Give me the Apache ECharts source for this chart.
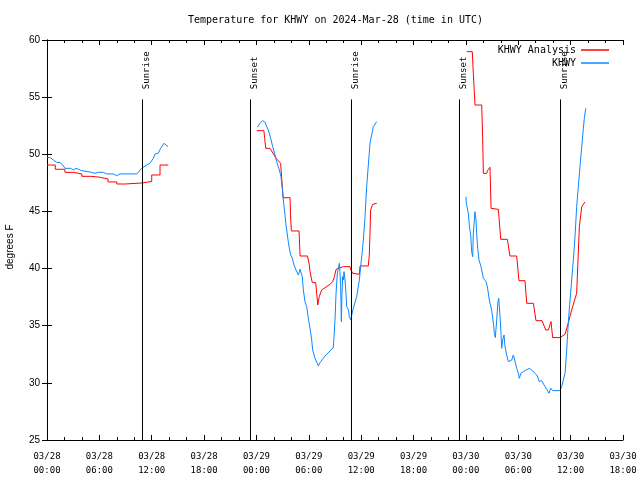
<!DOCTYPE html>
<html>
<head>
<meta charset="utf-8">
<script src="https://cdn.jsdelivr.net/npm/echarts@6/dist/echarts.min.js"></script>
<style>html,body{margin:0;padding:0;background:#fff;}#c{width:640px;height:480px;}</style>
</head>
<body>
<div id="c"></div>
<script>
// time in hours since 2024-03-28 00:00 UTC, temperature in degrees F
const analysisSeg1 = [[0,49.06],[0.95,49.06],[0.95,48.69],[2.05,48.69],[2.05,48.42],[3.0,48.42],[3.0,48.28],[4.0,48.28],[4.0,48.07],[5.0,48.07],[5.0,48.0],[6.0,48.0],[6.0,47.84],[7.0,47.84],[7.0,47.58],[8.0,47.58],[8.0,47.4],[8.95,47.4],[8.95,47.49],[10.9,47.49],[10.9,47.63],[12.0,47.63],[12.0,48.19],[12.95,48.19],[12.95,49.06],[13.9,49.06]];
const analysisSeg2 = [[24.03,52.07],[24.85,52.07],[24.94,51.4],[25.06,50.52],[25.55,50.52],[25.74,50.29],[26.24,49.65],[26.77,49.21],[26.97,49.06],[27.05,46.2],[27.85,46.2],[27.9,44.75],[28.0,43.29],[28.88,43.29],[29.0,41.1],[29.85,41.1],[30.06,40.31],[30.14,39.73],[30.33,39.73],[30.4,38.77],[30.79,38.77],[30.9,37.84],[31.02,36.81],[31.13,36.73],[31.2,37.55],[31.47,38.13],[32.43,38.62],[32.74,38.85],[32.93,39.29],[33.12,39.93],[33.19,40.01],[33.96,40.17],[34.72,40.17],[34.83,39.88],[35.03,39.59],[35.79,39.5],[35.87,40.23],[36.82,40.23],[36.93,41.19],[37.09,45.13],[37.31,45.62],[37.78,45.71]];
const analysisSeg3 = [[48.09,58.98],[48.73,58.98],[48.85,57.08],[49.04,54.31],[49.81,54.31],[49.92,51.4],[50.0,48.33],[50.38,48.33],[50.5,48.6],[50.76,48.86],[50.88,45.27],[51.72,45.18],[51.99,42.56],[52.75,42.56],[53.05,41.1],[53.82,41.1],[54.08,38.94],[54.77,38.94],[54.97,36.96],[55.73,36.96],[56.03,35.44],[56.72,35.44],[57.14,34.63],[57.45,34.63],[57.75,35.36],[57.94,33.96],[58.78,33.96],[59.36,34.25],[59.74,35.27],[60.12,36.38],[60.69,37.84],[61.0,43.67],[61.27,45.42],[61.65,45.83]];

const obsSeg1 = [[0.04,49.73],[0.42,49.7],[0.73,49.5],[1.11,49.3],[1.49,49.27],[1.8,49.06],[2.06,48.77],[2.71,48.77],[3.02,48.63],[3.32,48.77],[3.59,48.69],[3.97,48.57],[4.16,48.42],[5.12,48.42],[5.5,48.34],[5.88,48.42],[6.45,48.42],[6.84,48.28],[7.6,48.28],[7.98,48.13],[8.37,48.28],[10.28,48.28],[10.85,48.77],[11.42,49.06],[11.8,49.21],[12.18,49.65],[12.38,50.03],[12.75,50.09],[13.02,50.52],[13.41,50.96],[13.64,50.81],[13.87,50.67]];
const obsSeg2 = [[24.1,52.36],[24.4,52.7],[24.7,52.94],[24.79,53.0],[25.0,52.8],[25.17,52.42],[25.36,52.13],[25.63,51.4],[25.86,50.67],[26.13,49.94],[26.32,49.36],[26.62,48.63],[26.81,48.04],[26.97,47.02],[27.08,46.0],[27.19,45.27],[27.27,44.69],[27.39,43.81],[27.54,42.94],[27.65,42.35],[27.77,41.77],[27.92,41.19],[28.11,40.9],[28.3,40.31],[28.53,39.88],[28.8,39.44],[29.0,39.94],[29.12,40.05],[29.25,39.3],[29.37,38.13],[29.56,37.11],[29.76,36.67],[29.94,35.65],[30.14,34.77],[30.33,33.75],[30.44,32.88],[30.71,32.15],[31.09,31.48],[31.28,31.77],[31.66,32.15],[32.05,32.5],[32.43,32.79],[32.81,33.11],[32.89,34.04],[33.0,35.5],[33.12,37.84],[33.27,39.59],[33.38,40.0],[33.5,40.46],[33.57,39.73],[33.65,38.42],[33.73,35.36],[33.8,37.84],[33.88,39.29],[33.96,39.0],[34.03,39.73],[34.15,39.0],[34.26,37.84],[34.34,36.67],[34.53,36.38],[34.64,35.79],[34.8,35.5],[34.92,35.94],[35.1,36.52],[35.49,37.55],[35.79,39.0],[35.94,40.17],[36.1,41.34],[36.25,42.5],[36.44,44.54],[36.63,47.17],[37.01,50.96],[37.39,52.42],[37.78,52.85]];
const obsSeg3 = [[48.01,46.29],[48.05,45.71],[48.28,44.84],[48.4,43.67],[48.55,42.94],[48.66,41.48],[48.78,41.04],[48.85,43.09],[48.97,44.25],[49.04,44.98],[49.16,44.25],[49.23,43.09],[49.35,41.77],[49.5,40.75],[49.73,40.17],[50.0,39.15],[50.3,38.86],[50.46,38.42],[50.68,37.25],[50.95,36.38],[51.15,35.21],[51.26,34.34],[51.37,33.96],[51.53,35.5],[51.65,36.96],[51.76,37.4],[51.91,35.79],[52.02,34.34],[52.1,33.02],[52.22,33.75],[52.37,34.19],[52.48,33.17],[52.67,32.44],[52.86,31.86],[53.05,31.71],[53.25,32.0],[53.44,32.44],[53.63,31.86],[53.82,31.27],[54.01,30.84],[54.12,30.4],[54.31,30.84],[54.58,30.98],[54.89,31.13],[55.27,31.27],[55.54,31.13],[55.92,30.84],[56.19,30.6],[56.41,30.11],[56.68,30.2],[56.95,29.82],[57.26,29.44],[57.52,29.09],[57.72,29.53],[57.94,29.32],[58.21,29.32],[58.78,29.32],[58.98,29.67],[59.16,30.25],[59.36,30.84],[59.47,32.0],[59.55,32.88],[59.66,34.34],[59.78,35.79],[59.93,37.25],[60.12,39.0],[60.31,40.75],[60.5,42.79],[60.69,45.42],[60.88,47.17],[61.07,48.92],[61.27,50.67],[61.46,52.27],[61.57,53.15],[61.73,54.02]];

const sunTimes = [10.9, 23.27, 34.87, 47.27, 58.83];
const sunNames = ['Sunrise', 'Sunset', 'Sunrise', 'Sunset', 'Sunrise'];
const xTickHours = [0, 6, 12, 18, 24, 30, 36, 42, 48, 54, 60, 66];
const yTicks = [25, 30, 35, 40, 45, 50, 55, 60];

const RED = '#ff0000';
const BLUE = '#0a88ff';
const MONO = '"DejaVu Sans Mono", monospace';
const SANS = '"Liberation Sans", Arial, sans-serif';

const sunLines = sunTimes.map(t => [{coord: [t, yTicks[0]]}, {coord: [t, 54.8]}]);
const sunLabels = sunTimes.map((t, i) => [{coord: [t, 55.7], name: sunNames[i]}, {coord: [t, 59.8]}]);

function lineSeries(name, data, color, extra) {
  return Object.assign({
    name: name, type: 'line', data: data, symbol: 'none', showSymbol: false,
    lineStyle: {color: color, width: 1}, itemStyle: {color: color},
    animation: false, silent: true, z: 2
  }, extra || {});
}

const tickCommon = {inside: true, length: 5, lineStyle: {color: '#000', width: 1}};
const axisLineCommon = {show: true, lineStyle: {color: '#000', width: 1}};

const option = {
  backgroundColor: '#fff',
  animation: false,
  title: {
    text: 'Temperature for KHWY on 2024-Mar-28 (time in UTC)',
    left: 188, top: 15, padding: 0,
    textStyle: {fontFamily: MONO, fontSize: 10, fontWeight: 'normal', color: '#000'}
  },
  legend: {
    data: [{name: 'KHWY Analysis', icon: 'rect'}, {name: 'KHWY', icon: 'rect'}],
    orient: 'vertical', right: 31, top: 44, align: 'right', padding: 0,
    itemWidth: 28, itemHeight: 1.5, itemGap: 1,
    textStyle: {fontFamily: MONO, fontSize: 10, color: '#000', lineHeight: 12},
    inactiveColor: '#ccc'
  },
  grid: {left: 47, right: 17, top: 40, bottom: 40, containLabel: false, outerBoundsMode: 'none'},
  xAxis: [{
    type: 'value', min: xTickHours[0], max: xTickHours[xTickHours.length - 1], interval: 6, position: 'bottom',
    axisLine: axisLineCommon, axisTick: tickCommon,
    minorTick: {show: true, splitNumber: 3, length: 3, lineStyle: {color: '#000'}},
    splitLine: {show: false},
    axisLabel: {
      margin: 10, fontFamily: MONO, fontSize: 9, color: '#000', lineHeight: 14,
      formatter: function (v) {
        const d = 28 + Math.floor(v / 24);
        const h = v % 24;
        return '03/' + d + '\n' + (h < 10 ? '0' : '') + h + ':00';
      }
    }
  }, {
    type: 'value', min: xTickHours[0], max: xTickHours[xTickHours.length - 1], interval: 6, position: 'top',
    axisLine: axisLineCommon, axisTick: tickCommon,
    minorTick: {show: true, splitNumber: 3, length: 3, lineStyle: {color: '#000'}},
    splitLine: {show: false}, axisLabel: {show: false}
  }],
  yAxis: [{
    type: 'value', min: yTicks[0], max: yTicks[yTicks.length - 1], interval: 5, position: 'left',
    axisLine: axisLineCommon, axisTick: tickCommon, splitLine: {show: false},
    axisLabel: {margin: 7, fontFamily: SANS, fontSize: 10, color: '#000'},
    name: 'degrees F', nameLocation: 'middle', nameGap: 32,
    nameTextStyle: {fontFamily: SANS, fontSize: 10, color: '#000', padding: [0, 14, 0, 0]}
  }, {
    type: 'value', min: yTicks[0], max: yTicks[yTicks.length - 1], interval: 5, position: 'right',
    axisLine: axisLineCommon, axisTick: tickCommon, splitLine: {show: false},
    axisLabel: {show: false}
  }],
  series: [
    lineSeries('KHWY Analysis', analysisSeg1, RED, {
      markLine: {
        silent: true, animation: false, symbol: ['none', 'none'],
        lineStyle: {color: '#000', width: 1, type: 'solid'},
        label: {show: false},
        data: sunLines
      }
    }),
    lineSeries('KHWY Analysis', analysisSeg2, RED, {
      markLine: {
        silent: true, animation: false, symbol: ['none', 'none'],
        lineStyle: {color: 'rgba(0,0,0,0)', width: 1, type: 'solid'},
        label: {show: true, formatter: '{b}', position: 'insideStartBottom', distance: 0,
                color: '#000', fontFamily: MONO, fontSize: 9},
        data: sunLabels
      }
    }),
    lineSeries('KHWY Analysis', analysisSeg3, RED),
    lineSeries('KHWY', obsSeg1, BLUE, {z: 3}),
    lineSeries('KHWY', obsSeg2, BLUE, {z: 3}),
    lineSeries('KHWY', obsSeg3, BLUE, {z: 3})
  ]
};

const chart = echarts.init(document.getElementById('c'), null, {renderer: 'canvas'});
chart.setOption(option);
</script>
</body>
</html>
